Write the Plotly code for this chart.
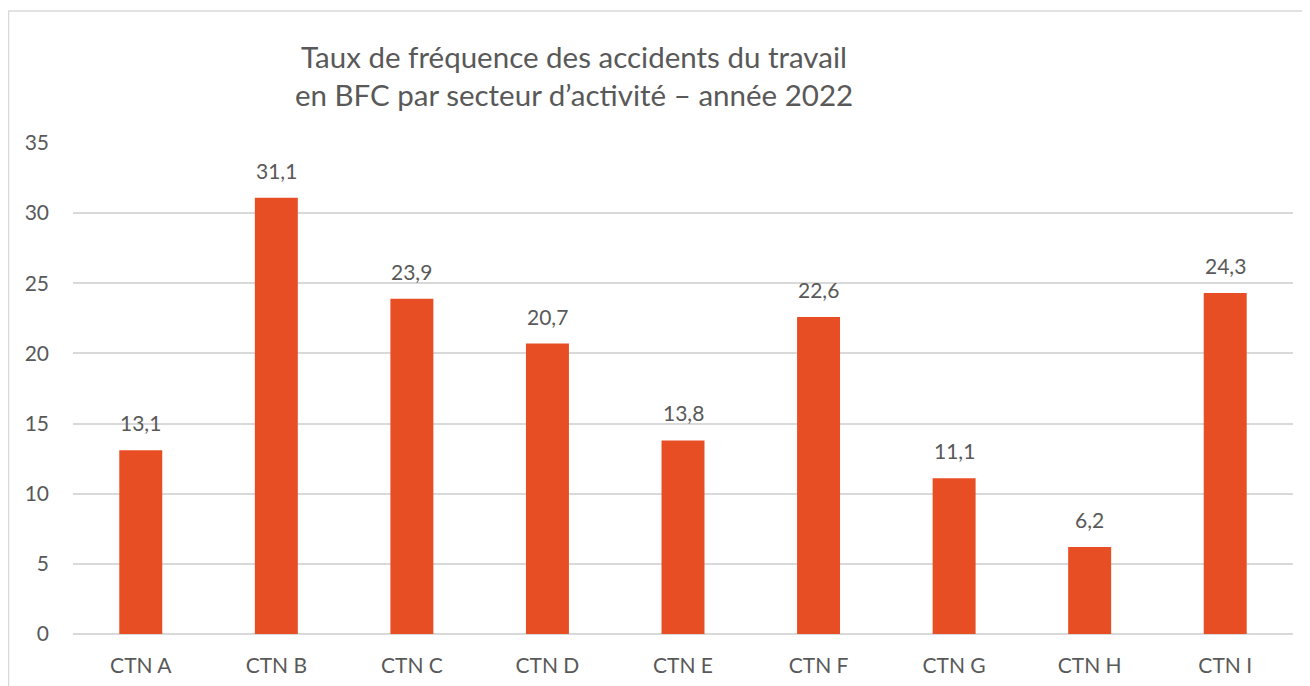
import plotly.graph_objects as go

categories = ["CTN A", "CTN B", "CTN C", "CTN D", "CTN E", "CTN F", "CTN G", "CTN H", "CTN I"]
taux = [13.1, 31.1, 23.9, 20.7, 13.8, 22.6, 11.1, 6.2, 24.3]
y_ticks = [0, 5, 10, 15, 20, 25, 30, 35]

FONT = "Lato"
GRIS = "#595959"
ORANGE = "#E84E24"

fig = go.Figure()
fig.add_trace(go.Bar(
    x=categories,
    y=taux,
    marker=dict(color=ORANGE, line=dict(width=0)),
    hoverinfo="x+y",
))

# étiquettes de données au-dessus des barres
for cat, val in zip(categories, taux):
    fig.add_annotation(
        x=cat, y=val, text=f"{val:.1f}".replace(".", ","),
        showarrow=False, yanchor="bottom", yshift=13,
        font=dict(family=FONT, size=21, color=GRIS),
    )

# cadre du graphique
fig.add_shape(
    type="rect", xref="paper", yref="paper",
    x0=-64.5 / 1220, x1=1.05, y0=-0.2, y1=1 + 132 / 491,
    line=dict(color="#D9D9D9", width=1.5), fillcolor="rgba(0,0,0,0)",
    layer="below",
)

fig.update_layout(
    width=1310, height=686,
    margin=dict(l=65, r=25, t=135, b=60),
    paper_bgcolor="white", plot_bgcolor="white",
    showlegend=False,
    bargap=0.683,
    title=dict(
        text="Taux de fréquence des accidents du travail<br>en BFC par secteur d’activité – année 2022",
        font=dict(family=FONT, size=29.5, color=GRIS),
        x=566 / 1310, xanchor="center", y=1 - 60 / 686, yanchor="top",
    ),
)

fig.update_xaxes(
    showgrid=False, showline=False, zeroline=False, ticks="",
    tickfont=dict(family=FONT, size=21, color=GRIS),
    ticklabelstandoff=17,
)
fig.update_yaxes(
    range=[0, 35], tickvals=y_ticks,
    showgrid=True, gridcolor="#D9D9D9", gridwidth=1.5,
    zeroline=True, zerolinecolor="#D9D9D9", zerolinewidth=1.5,
    showline=False, ticks="",
    tickfont=dict(family=FONT, size=21, color=GRIS),
    ticklabelstandoff=23,
)

fig.write_html("out.html")
